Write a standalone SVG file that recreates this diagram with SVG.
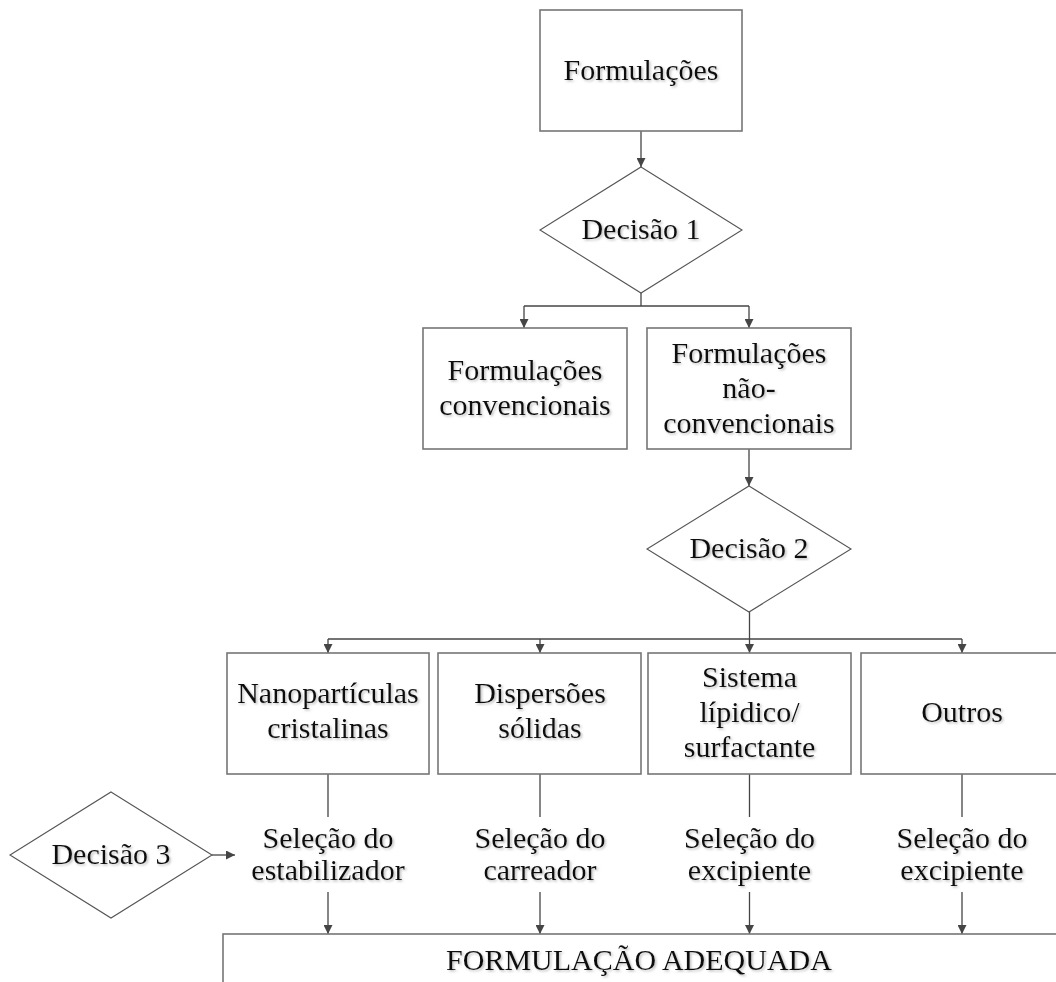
<svg xmlns="http://www.w3.org/2000/svg" width="1056" height="982" viewBox="0 0 1056 982">
<defs>
<style>
.box{fill:#fff;stroke:#767676;stroke-width:1.6}
.dia{fill:#fff;stroke:#555;stroke-width:1.1}
.con{fill:none;stroke:#454545;stroke-width:1.3}
.arr{fill:none;stroke:#454545;stroke-width:1.3;marker-end:url(#ah)}
text{font-family:"Liberation Serif","Times New Roman",serif;font-size:30px;fill:#111;text-anchor:middle;filter:url(#ts)}
</style>
<marker id="ah" viewBox="0 0 10 10" refX="10" refY="5" markerWidth="9" markerHeight="9" markerUnits="userSpaceOnUse" orient="auto">
<path d="M0,0 L10,5 L0,10 z" fill="#454545"/>
</marker>
<filter id="ts" x="-10%" y="-20%" width="120%" height="150%">
<feDropShadow dx="1.5" dy="1.5" stdDeviation="0.8" flood-color="#888" flood-opacity="0.55"/>
</filter>
</defs>
<rect width="1056" height="982" fill="#fff"/>
<g id="connectors">
<path class="arr" d="M641,131 V167"/>
<path class="con" d="M641,293 V306 M524,306 H749"/>
<path class="arr" d="M524,306 V328"/>
<path class="arr" d="M749,306 V328"/>
<path class="arr" d="M749,449 V486"/>
<path class="con" d="M749.5,612 V639 M328,639 H962"/>
<path class="arr" d="M328,639 V653"/>
<path class="arr" d="M540,639 V653"/>
<path class="arr" d="M749.5,639 V653"/>
<path class="arr" d="M962,639 V653"/>
<path class="con" d="M328,774 V817 M540,774 V817 M749.5,774 V817 M962,774 V817"/>
<path class="arr" d="M328,892 V934"/>
<path class="arr" d="M540,892 V934"/>
<path class="arr" d="M749.5,892 V934"/>
<path class="arr" d="M962,892 V934"/>
<path class="arr" d="M212,855 H235"/>
</g>
<g id="n-formulacoes">
<rect class="box" x="540" y="10" width="202" height="121"/>
<text x="641" y="80">Formulações</text>
</g>
<g id="n-decisao1">
<polygon class="dia" points="641,167 742,230 641,293 540,230"/>
<text x="641" y="239">Decisão 1</text>
</g>
<g id="n-convencionais">
<rect class="box" x="423" y="328" width="204" height="121"/>
<text x="525" y="380">Formulações</text>
<text x="525" y="415">convencionais</text>
</g>
<g id="n-naoconvencionais">
<rect class="box" x="647" y="328" width="204" height="121"/>
<text x="749" y="363">Formulações</text>
<text x="749" y="398">não-</text>
<text x="749" y="433">convencionais</text>
</g>
<g id="n-decisao2">
<polygon class="dia" points="749,486 851,549 749,612 647,549"/>
<text x="749" y="558">Decisão 2</text>
</g>
<g id="n-nano">
<rect class="box" x="227" y="653" width="202" height="121"/>
<text x="328" y="703">Nanopartículas</text>
<text x="328" y="738">cristalinas</text>
</g>
<g id="n-dispersoes">
<rect class="box" x="438" y="653" width="203" height="121"/>
<text x="540" y="703">Dispersões</text>
<text x="540" y="738">sólidas</text>
</g>
<g id="n-sistema">
<rect class="box" x="648" y="653" width="203" height="121"/>
<text x="749.5" y="687">Sistema</text>
<text x="749.5" y="722">lípidico/</text>
<text x="749.5" y="757">surfactante</text>
</g>
<g id="n-outros">
<rect class="box" x="861" y="653" width="203" height="121"/>
<text x="962" y="722">Outros</text>
</g>
<g id="n-sel1">
<text x="328" y="848">Seleção do</text>
<text x="328" y="880">estabilizador</text>
</g>
<g id="n-sel2">
<text x="540" y="848">Seleção do</text>
<text x="540" y="880">carreador</text>
</g>
<g id="n-sel3">
<text x="749.5" y="848">Seleção do</text>
<text x="749.5" y="880">excipiente</text>
</g>
<g id="n-sel4">
<text x="962" y="848">Seleção do</text>
<text x="962" y="880">excipiente</text>
</g>
<g id="n-decisao3">
<polygon class="dia" points="111,792 212,855 111,918 10,855"/>
<text x="111" y="864">Decisão 3</text>
</g>
<g id="n-adequada">
<rect class="box" x="223" y="934" width="850" height="70"/>
<text x="639" y="970">FORMULAÇÃO ADEQUADA</text>
</g>
</svg>
